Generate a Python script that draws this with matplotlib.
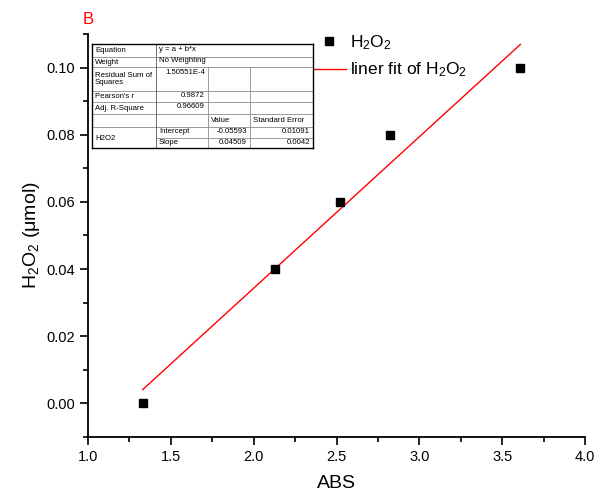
import matplotlib
matplotlib.use("Agg")
import matplotlib.pyplot as plt
from matplotlib.lines import Line2D
from matplotlib.ticker import MultipleLocator

plt.rcParams["font.family"] = ["Liberation Sans", "DejaVu Sans"]
plt.rcParams["mathtext.fontset"] = "custom"
plt.rcParams["mathtext.rm"] = "Liberation Sans"
plt.rcParams["mathtext.it"] = "Liberation Sans:italic"

# measured points
abs_vals = [1.33, 2.13, 2.52, 2.82, 3.61]
h2o2_vals = [0.0, 0.04, 0.06, 0.08, 0.10]

# linear fit line end points
fit_x = [1.33, 3.61]
fit_y = [0.0041, 0.1069]

# fit report table
table_rows = [
    ["Equation", "y = a + b*x"],
    ["Weight", "No Weighting"],
    ["Residual Sum of\nSquares", "1.50551E-4"],
    ["Pearson's r", "0.9872"],
    ["Adj. R-Square", "0.96609"],
]
param_names = ["Intercept", "Slope"]
param_values = ["-0.05593", "0.04509"]
param_errors = ["0.01091", "0.0042"]

W, H = 600, 497
fig = plt.figure(figsize=(W / 100, H / 100), dpi=100)
ax = fig.add_axes([88 / W, 1 - 437 / H, (585 - 88) / W, (437 - 34) / H])

ax.plot(fit_x, fit_y, color="red", lw=1.0, label="liner fit of H$_2$O$_2$", zorder=2)
ax.plot(abs_vals, h2o2_vals, ls="none", marker="s", ms=6, color="black",
        label="H$_2$O$_2$", zorder=3)

ax.set_xlim(1.0, 4.0)
ax.set_ylim(-0.01, 0.11)
ax.xaxis.set_major_locator(MultipleLocator(0.5))
ax.xaxis.set_minor_locator(MultipleLocator(0.25))
ax.yaxis.set_major_locator(MultipleLocator(0.02))
ax.yaxis.set_minor_locator(MultipleLocator(0.01))
ax.xaxis.set_major_formatter(matplotlib.ticker.FormatStrFormatter("%.1f"))
ax.yaxis.set_major_formatter(matplotlib.ticker.FormatStrFormatter("%.2f"))
ax.tick_params(which="major", direction="out", length=6, width=1.2, labelsize=10.5)
ax.tick_params(which="minor", direction="out", length=3.5, width=1.2)
for side in ["top", "right"]:
    ax.spines[side].set_visible(False)
for side in ["left", "bottom"]:
    ax.spines[side].set_linewidth(1.3)

ax.set_xlabel("ABS", fontsize=14, labelpad=8)
ax.set_ylabel("H$_2$O$_2$ (μmol)", fontsize=14, labelpad=3)

handles, labels = ax.get_legend_handles_labels()
ax.legend(handles[::-1], labels[::-1], loc="upper left",
          bbox_to_anchor=(218 / (585 - 88), 1.0 + 8 / 403),
          frameon=False, fontsize=12.5, handlelength=1.9, handletextpad=0.25,
          labelspacing=0.52, borderaxespad=0)

fig.text(83 / W, 1 - 20 / H, "B", color="red", fontsize=12, va="center", ha="left")


# table drawn in pixel coordinates
def px(x, y):
    return x / W, 1 - y / H


def hline(x0, x1, y, color="#8c8c8c", lw=0.6):
    fig.add_artist(Line2D([x0 / W, x1 / W], [1 - y / H, 1 - y / H], color=color, lw=lw))


def vline(x, y0, y1, color="#8c8c8c", lw=0.6):
    fig.add_artist(Line2D([x / W, x / W], [1 - y0 / H, 1 - y1 / H], color=color, lw=lw))


cols = [92, 156, 208, 250, 313]
rows = [44, 57, 67, 91, 102, 114, 127, 138, 148]

# white background
fig.add_artist(plt.Rectangle(px(cols[0], rows[-1]), (cols[-1] - cols[0]) / W,
                             (rows[-1] - rows[0]) / H, facecolor="white",
                             edgecolor="none", zorder=1))
for i in range(1, len(rows) - 1):
    if i == 7:
        hline(cols[1], cols[-1], rows[i])
    else:
        hline(cols[0], cols[-1], rows[i])
vline(cols[1], rows[0], rows[-1], color="#555555")
vline(cols[2], rows[2], rows[-1])
vline(cols[3], rows[2], rows[-1])
# outer border
hline(cols[0], cols[-1], rows[0], color="black", lw=1.0)
hline(cols[0], cols[-1], rows[-1], color="black", lw=1.0)
vline(cols[0], rows[0], rows[-1], color="black", lw=1.0)
vline(cols[-1], rows[0], rows[-1], color="black", lw=1.0)

fs = 5.6
for i, (lab, val) in enumerate(table_rows):
    yc = (rows[i] + rows[i + 1]) / 2
    fig.text(*px(cols[0] + 3, yc), lab, fontsize=fs, va="center", ha="left",
             linespacing=1.0)
    if i < 2:
        fig.text(*px(cols[1] + 3, yc - 1), val, fontsize=fs, va="center", ha="left")
    else:
        ytop = rows[i] + 5
        fig.text(*px(cols[2] - 3, ytop), val, fontsize=fs, va="center", ha="right")

yc = (rows[5] + rows[6]) / 2
fig.text(*px(cols[2] + 3, yc), "Value", fontsize=fs, va="center", ha="left")
fig.text(*px(cols[3] + 3, yc), "Standard Error", fontsize=fs, va="center", ha="left")
fig.text(*px(cols[0] + 3, rows[7]), "H2O2", fontsize=fs, va="center", ha="left")
for j in range(2):
    yc = (rows[6 + j] + rows[7 + j]) / 2 - 1
    fig.text(*px(cols[1] + 3, yc), param_names[j], fontsize=fs, va="center", ha="left")
    fig.text(*px(cols[3] - 3, yc), param_values[j], fontsize=fs, va="center", ha="right")
    fig.text(*px(cols[4] - 3, yc), param_errors[j], fontsize=fs, va="center", ha="right")

fig.savefig("out.png", dpi=100)
